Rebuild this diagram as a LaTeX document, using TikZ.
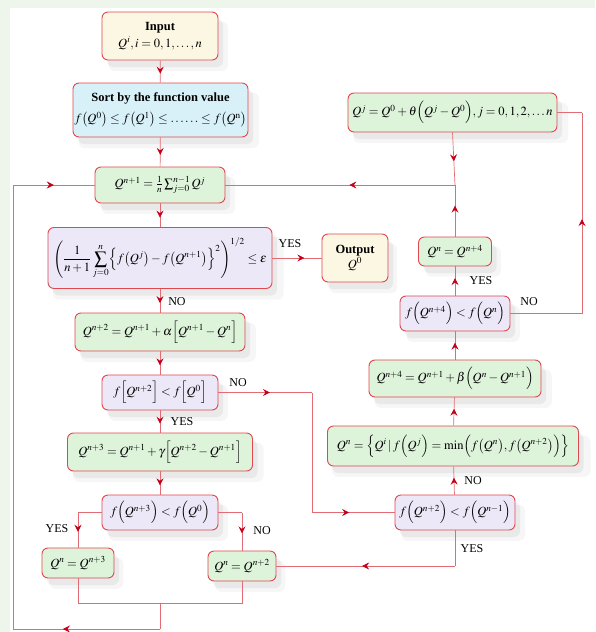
\documentclass[tikz,border=0pt]{standalone}
\usepackage{mathptmx}
\usepackage[no-math]{fontspec}
\setmainfont{Liberation Serif}
\usetikzlibrary{arrows.meta,decorations.markings,shadows}
\definecolor{bred}{HTML}{E04850}
\definecolor{lred}{HTML}{E36C74}
\definecolor{ared}{HTML}{C4001A}
\definecolor{cream}{HTML}{FBF7E2}
\definecolor{skyb}{HTML}{D8F1F8}
\definecolor{mint}{HTML}{DDF3DA}
\definecolor{lav}{HTML}{ECE8F8}
\definecolor{bgg}{HTML}{EEF6EC}
\tikzset{
  box/.style={draw=bred, line width=0.9pt, rounded corners=6pt, align=center, inner sep=0pt,
    font=\fontsize{12.5}{15}\selectfont,
    drop shadow={shadow xshift=8pt, shadow yshift=-10pt, opacity=0.035, fill=black, shadow scale=1.03},
    drop shadow={shadow xshift=5pt, shadow yshift=-7pt, opacity=0.05, fill=black}},
  gbox/.style={box, fill=mint},
  pbox/.style={box, fill=lav},
  cbox/.style={box, fill=cream},
  bbox/.style={box, fill=skyb},
  sz/.style 2 args={minimum width=#1pt, minimum height=#2pt},
  conn/.style={draw=lred, line width=0.7pt},
  am/.style={postaction={decorate}, decoration={markings, mark=at position #1 with {\arrow{Stealth[length=7pt,width=7pt,inset=2.5pt,color=ared]}}}},
  lbl/.style={font=\fontsize{12}{14}\selectfont, inner sep=0pt}
}
\begin{document}
\begin{tikzpicture}[x=1pt,y=-1pt]
\useasboundingbox (0,0) rectangle (595,632);
\fill[bgg] (0,0) rectangle (595,632);
\fill[white] (10,8) rectangle (595,632);

% left column
\node[cbox, sz={116}{48}] (in) at (160,36) {\textbf{Input}\\[2pt]$Q^{i}, i=0,1,\ldots,n$};
\node[bbox, sz={175}{54}] (sort) at (160.5,110) {\textbf{Sort by the function value}\\[6pt]$f\bigl(Q^{0}\bigr)\le f\bigl(Q^{1}\bigr)\le\ldots\ldots\le f\bigl(Q^{\mathrm{n}}\bigr)$};
\node[gbox, sz={130}{36}] (cen) at (160,185) {$Q^{n+1}=\frac{1}{n}\sum_{j=0}^{n-1}Q^{j}$};
\node[pbox, sz={224}{61}] (test) at (160,258) {$\displaystyle\left(\frac{1}{n+1}\sum_{j=0}^{n}\Bigl\{f\bigl(Q^{j}\bigr)-f\bigl(Q^{n+1}\bigr)\Bigr\}^{2}\right)^{1/2}\le\varepsilon$};
\node[cbox, sz={66}{48}] (out) at (355,258) {\textbf{Output}\\$Q^{0}$};
\node[gbox, sz={170}{38}] (refl) at (160,332) {$Q^{n+2}=Q^{n+1}+\alpha\Bigl[Q^{n+1}-Q^{n}\Bigr]$};
\node[pbox, sz={116}{35}] (d1) at (160,392.5) {$f\Bigl[Q^{n+2}\Bigr]<f\Bigl[Q^{0}\Bigr]$};
\node[gbox, sz={185}{38}] (exp) at (160,452) {$Q^{n+3}=Q^{n+1}+\gamma\Bigl[Q^{n+2}-Q^{n+1}\Bigr]$};
\node[pbox, sz={116}{35}] (d2) at (160,512.5) {$f\Bigl(Q^{n+3}\Bigr)<f\Bigl(Q^{0}\Bigr)$};
\node[gbox, sz={72}{30}] (a3) at (78,563) {$Q^{n}=Q^{n+3}$};
\node[gbox, sz={68}{30}] (a2) at (242,566) {$Q^{n}=Q^{n+2}$};

% right column
\node[gbox, sz={209}{39}] (shr) at (452.5,112.5) {$Q^{j}=Q^{0}+\theta\Bigl(Q^{j}-Q^{0}\Bigr), j=0,1,2,\ldots n$};
\node[gbox, sz={73}{29}] (a4) at (455,251.5) {$Q^{n}=Q^{n+4}$};
\node[pbox, sz={110}{35}] (d4) at (455,313.5) {$f\Bigl(Q^{n+4}\Bigr)<f\Bigl(Q^{n}\Bigr)$};
\node[gbox, sz={172}{37}] (c4) at (455,378.5) {$Q^{n+4}=Q^{n+1}+\beta\Bigl(Q^{n}-Q^{n+1}\Bigr)$};
\node[gbox, sz={251}{40}] (con) at (453,446) {$Q^{n}=\Bigl\{Q^{i}\,|\,f\Bigl(Q^{j}\Bigr)=\min\Bigl(f\bigl(Q^{n}\bigr),f\bigl(Q^{n+2}\bigr)\Bigr)\Bigr\}$};
\node[pbox, sz={120}{35}] (d3) at (455,512.5) {$f\Bigl(Q^{n+2}\Bigr)<f\Bigl(Q^{n-1}\Bigr)$};

% coordinates
\coordinate (j) at (455,185);
\coordinate (c11) at (312,392.5);
\coordinate (c12) at (312,512.5);
\coordinate (c13) at (455,566);
\coordinate (c20a) at (582,313.5);
\coordinate (c20b) at (582,112.5);
\coordinate (c21a) at (78,603);
\coordinate (c21b) at (242,603);
\coordinate (c21m) at (160,603);
\coordinate (c21c) at (160,629);
\coordinate (c21d) at (13,629);
\coordinate (c21e) at (13,185);
\coordinate (d2l) at (78,512.5);
\coordinate (d2r) at (242,512.5);

% connectors left column
\draw[conn, am=0.6] (in) -- (sort);
\draw[conn, am=0.6] (sort) -- (cen);
\draw[conn, am=0.6] (cen) -- (test);
\draw[conn, am=0.65] (test.east) -- (out.west);
\draw[conn, am=0.6] (test) -- (refl);
\draw[conn, am=0.6] (refl) -- (d1);
\draw[conn, am=0.6] (d1) -- (exp);
\draw[conn, am=0.6] (exp) -- (d2);
\draw[conn] (d2.west) -- (d2l);
\draw[conn, am=0.55] (d2l) -- (a3.north);
\draw[conn] (d2.east) -- (d2r);
\draw[conn, am=0.55] (d2r) -- (a2.north);
\draw[conn, am=0.55] (d1.east) -- (c11);
\draw[conn] (c11) -- (c12);
\draw[conn, am=0.45] (c12) -- (d3.west);

% right column
\draw[conn] (d3.south) -- (c13);
\draw[conn, am=0.52] (c13) -- (a2.east);
\draw[conn, am=0.6] (d3) -- (con);
\draw[conn, am=0.6] (con) -- (c4);
\draw[conn, am=0.6] (c4) -- (d4);
\draw[conn, am=0.6] (d4) -- (a4);
\draw[conn, am=0.6] (a4.north) -- (j);
\draw[conn, am=0.55] (shr.south) -- (j);
\draw[conn, am=0.46] (j) -- (cen.east);
\draw[conn] (d4.east) -- (c20a);
\draw[conn, am=0.47] (c20a) -- (c20b);
\draw[conn] (c20b) -- (shr.east);

% return loop
\draw[conn] (a3.south) -- (c21a) -- (c21b) -- (a2.south);
\draw[conn] (c21m) -- (c21c);
\draw[conn, am=0.66] (c21c) -- (c21d);
\draw[conn] (c21d) -- (c21e);
\draw[conn, am=0.5] (c21e) -- (cen.west);

% labels
\node[lbl] (l1) at (290,244) {YES};
\node[lbl] (l2) at (177,302) {NO};
\node[lbl] (l3) at (238,383) {NO};
\node[lbl] (l4) at (182,422) {YES};
\node[lbl] (l5) at (57,529) {YES};
\node[lbl] (l6) at (262,531) {NO};
\node[lbl] (l7) at (472,549) {YES};
\node[lbl] (l8) at (473,481) {NO};
\node[lbl] (l9) at (529,302) {NO};
\node[lbl] (l10) at (481,281) {YES};
\end{tikzpicture}
\end{document}
